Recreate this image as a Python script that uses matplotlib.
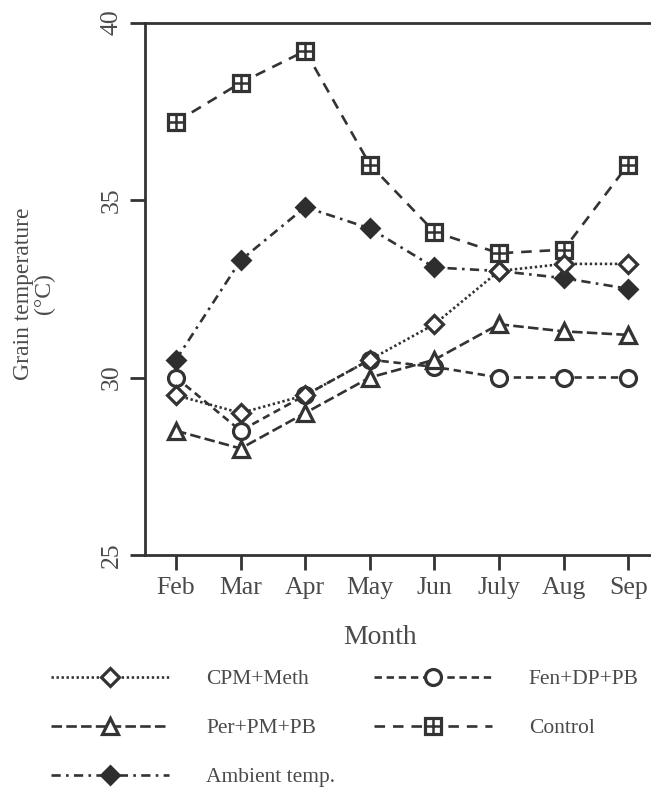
import matplotlib
matplotlib.use("Agg")
import matplotlib.pyplot as plt
from matplotlib.lines import Line2D

months = ["Feb", "Mar", "Apr", "May", "Jun", "July", "Aug", "Sep"]
cpm_meth = [29.5, 29.0, 29.5, 30.5, 31.5, 33.0, 33.2, 33.2]
fen_dp_pb = [30.0, 28.5, 29.5, 30.5, 30.3, 30.0, 30.0, 30.0]
per_pm_pb = [28.5, 28.0, 29.0, 30.0, 30.5, 31.5, 31.3, 31.2]
control = [37.2, 38.3, 39.2, 36.0, 34.1, 33.5, 33.6, 36.0]
ambient = [30.5, 33.3, 34.8, 34.2, 33.1, 33.0, 32.8, 32.5]
yticks = [25, 30, 35, 40]

plt.rcParams['font.family'] = ['Liberation Serif', 'DejaVu Serif']
INK = '#333333'
TXT = '#4a4a4a'

W, H = 651, 794
fig = plt.figure(figsize=(W / 100, H / 100), dpi=100)
ax = fig.add_axes([145 / W, (H - 555) / H, 522 / W, (555 - 22.5) / H])

x = list(range(len(months)))
lw = 1.9
mew = 2.3

h_cpm, = ax.plot(x, cpm_meth, color=INK, lw=lw, dashes=(0.9, 1.0), marker='D', ms=9.5,
                 mfc='white', mec=INK, mew=mew, label='CPM+Meth', zorder=4)
h_fen, = ax.plot(x, fen_dp_pb, color=INK, lw=lw, dashes=(2.8, 1.8), marker='o', ms=11.5,
                 mfc='white', mec=INK, mew=mew, label='Fen+DP+PB', zorder=3)
h_per, = ax.plot(x, per_pm_pb, color=INK, lw=lw, dashes=(4.0, 1.6), marker='^', ms=12,
                 mfc='white', mec=INK, mew=mew, label='Per+PM+PB', zorder=3)
ax.plot(x, control, color=INK, lw=lw, dashes=(4.0, 3.0), marker='s', ms=12,
        mfc='white', mec=INK, mew=mew, zorder=3)
ax.plot(x, control, ls='none', marker='+', ms=12, mec=INK, mew=1.8, zorder=3.5)
h_amb, = ax.plot(x, ambient, color=INK, lw=lw, dashes=(3.5, 2.0, 1.0, 2.0), marker='D', ms=9.5,
                 mfc='#2e2e2e', mec='#2e2e2e', mew=2.0, label='Ambient temp.', zorder=3)

ax.set_xlim(-0.48, 7.6)
ax.set_ylim(25, 40)
ax.set_xticks(x)
ax.set_xticklabels(months)
ax.set_yticks(yticks)
ax.set_yticklabels([str(v) for v in yticks], rotation=90, va='center')

ax.spines['right'].set_visible(False)
for s in ['left', 'top', 'bottom']:
    ax.spines[s].set_color(INK)
    ax.spines[s].set_linewidth(2.0)
ax.tick_params(axis='both', direction='out', length=11, width=2.0, color=INK,
               labelsize=18.5, labelcolor=TXT)
ax.tick_params(axis='x', pad=5)
ax.tick_params(axis='y', pad=5)

ax.set_xlabel('Month', fontsize=20, color=TXT)
ax.xaxis.set_label_coords((380 - 145) / 522, -(637 - 555) / (555 - 22.5), transform=ax.transAxes)
ax.xaxis.label.set_va('center')
ax.set_ylabel('Grain temperature\n(°C)', fontsize=17, color=TXT, linespacing=1.0)
ax.yaxis.set_label_coords(-(145 - 34) / 522, (555 - 294) / (555 - 22.5), transform=ax.transAxes)
ax.yaxis.label.set_va('center')

h_ctl = Line2D([], [], color=INK, lw=lw, dashes=(4.0, 3.0), marker='s', ms=12,
               mfc='white', mec=INK, mew=mew)
h_ctl_plus = Line2D([], [], ls='none', marker='+', ms=12, mec=INK, mew=1.8)

leg = fig.legend([h_cpm, h_per, h_amb, h_fen, (h_ctl, h_ctl_plus)],
                 ['CPM+Meth', 'Per+PM+PB', 'Ambient temp.', 'Fen+DP+PB', 'Control'],
                 ncol=2, loc='upper left', bbox_to_anchor=(51 / W, 1 - 669 / H),
                 bbox_transform=fig.transFigure, frameon=False, fontsize=15.5,
                 handlelength=5.5, handletextpad=1.7, columnspacing=1.8,
                 labelspacing=1.35, borderpad=0, borderaxespad=0, numpoints=1)
for t in leg.get_texts():
    t.set_color(TXT)

fig.savefig('out.png', dpi=100)
